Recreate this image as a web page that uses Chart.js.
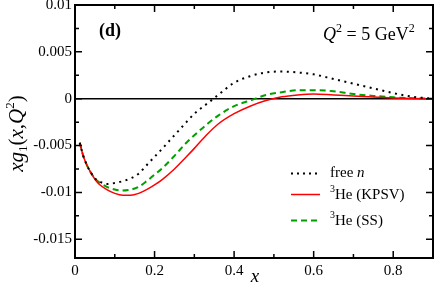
<!DOCTYPE html>
<html>
<head>
<meta charset="utf-8">
<script src="https://cdn.jsdelivr.net/npm/chart.js@4.4.1/dist/chart.umd.min.js"></script>
<style>
  html, body { margin: 0; padding: 0; background: #fff; }
  #wrap { width: 436px; height: 285px; }
</style>
</head>
<body>
<div id="wrap"><canvas id="chart" width="436" height="285"></canvas></div>
<script>
// === Data ===
const xValues = [0.012, 0.02, 0.03, 0.04, 0.05, 0.06, 0.08, 0.10, 0.12, 0.14, 0.16, 0.18, 0.20, 0.22, 0.25,
                 0.28, 0.30, 0.33, 0.36, 0.40, 0.44, 0.48, 0.52, 0.56, 0.60, 0.65, 0.70, 0.75, 0.80, 0.85, 0.90];
const freeN = [-0.0047, -0.0060, -0.0071, -0.0079, -0.0085, -0.0088, -0.0091, -0.0090, -0.0088, -0.0085, -0.0080,
               -0.0071, -0.0062, -0.0053, -0.0039, -0.0025, -0.0016, -0.0006, 0.0004, 0.0017, 0.0024, 0.0028,
               0.0029, 0.0028, 0.0026, 0.0021, 0.0016, 0.0011, 0.0006, 0.0002, 0.0000];
const heKPSV = [-0.0047, -0.0060, -0.0071, -0.0079, -0.0086, -0.0091, -0.0097, -0.0101, -0.0103, -0.0103, -0.0101,
                -0.0097, -0.0092, -0.0086, -0.0075, -0.0062, -0.0053, -0.0039, -0.0027, -0.0016, -0.0008, -0.0002,
                0.0002, 0.0004, 0.0005, 0.0004, 0.0003, 0.00017, 0.00008, 0.00002, 0.0000];
const heSS = [-0.0047, -0.0060, -0.0071, -0.0079, -0.0085, -0.0089, -0.0094, -0.0097, -0.0098, -0.0097, -0.0094,
              -0.0088, -0.0081, -0.0074, -0.0061, -0.0047, -0.0039, -0.0028, -0.0018, -0.0008, -0.0002, 0.0004,
              0.0007, 0.0009, 0.0009, 0.0008, 0.0005, 0.0003, 0.00015, 0.00005, 0.0000];

const xTicks = [0, 0.2, 0.4, 0.6, 0.8];
const xMinorTicks = [0.1, 0.3, 0.5, 0.7];
const yTicks = [-0.015, -0.01, -0.005, 0, 0.005, 0.01];
const yMinorTicks = [-0.0125, -0.0075, -0.0025, 0.0025, 0.0075];

const FONT = '"Liberation Serif", "DejaVu Serif", serif';

function toPoints(ys) {
    return xValues.map((x, i) => ({ x: x, y: ys[i] }));
}

// draws a run of text pieces: [text, font, baseline shift]
function drawRich(ctx, parts, x, y, align) {
    let total = 0;
    for (const p of parts) { ctx.font = p[1]; total += ctx.measureText(p[0]).width; }
    let cx = align === "center" ? x - total / 2 : x;
    ctx.textAlign = "left";
    ctx.textBaseline = "alphabetic";
    for (const p of parts) {
        ctx.font = p[1];
        ctx.fillText(p[0], cx, y + (p[2] || 0));
        cx += ctx.measureText(p[0]).width;
    }
}

const framePlugin = {
    id: "frame",
    beforeDatasetsDraw(chart) {
        const { ctx, chartArea: a, scales: { y } } = chart;
        const y0 = y.getPixelForValue(0);
        ctx.save();
        ctx.strokeStyle = "#000";
        ctx.lineWidth = 1.5;
        ctx.beginPath();
        ctx.moveTo(a.left, y0);
        ctx.lineTo(a.right, y0);
        ctx.stroke();
        ctx.restore();
    },
    afterDraw(chart) {
        const { ctx, chartArea: a, scales: { x, y } } = chart;
        ctx.save();
        ctx.strokeStyle = "#000";
        ctx.lineWidth = 2;
        ctx.strokeRect(a.left, a.top, a.right - a.left, a.bottom - a.top);

        // inward ticks on all four sides
        ctx.lineWidth = 1.5;
        ctx.beginPath();
        const xt = (v, len) => {
            const px = x.getPixelForValue(v);
            ctx.moveTo(px, a.bottom); ctx.lineTo(px, a.bottom - len);
            ctx.moveTo(px, a.top); ctx.lineTo(px, a.top + len);
        };
        const yt = (v, len) => {
            const py = y.getPixelForValue(v);
            ctx.moveTo(a.left, py); ctx.lineTo(a.left + len, py);
            ctx.moveTo(a.right, py); ctx.lineTo(a.right - len, py);
        };
        xTicks.forEach(v => xt(v, 7));
        xMinorTicks.forEach(v => xt(v, 4));
        yTicks.forEach(v => yt(v, 7));
        yMinorTicks.forEach(v => yt(v, 4));
        ctx.stroke();

        ctx.fillStyle = "#000";
        // panel label and Q^2
        drawRich(ctx, [["(d)", "bold 18px " + FONT]], 110, 36, "center");
        drawRich(ctx, [
            ["Q", "italic 18px " + FONT],
            ["2", "12px " + FONT, -8],
            [" = 5 GeV", "18px " + FONT],
            ["2", "12px " + FONT, -8]
        ], 323, 40);

        // legend
        const legend = [
            { y: 173.5, color: "#000", width: 2, dash: [2, 4], text: [["free ", "15px " + FONT], ["n", "italic 15px " + FONT]], base: 177 },
            { y: 194.5, color: "#ff0000", width: 1.5, dash: [], text: [["3", "10px " + FONT, -7], ["He (KPSV)", "15px " + FONT]], base: 198.5 },
            { y: 220.5, color: "#00a000", width: 2, dash: [6, 4], text: [["3", "10px " + FONT, -7], ["He (SS)", "15px " + FONT]], base: 224.5 }
        ];
        for (const l of legend) {
            ctx.save();
            ctx.strokeStyle = l.color;
            ctx.lineWidth = l.width;
            ctx.setLineDash(l.dash);
            ctx.beginPath();
            ctx.moveTo(291, l.y);
            ctx.lineTo(320, l.y);
            ctx.stroke();
            ctx.restore();
            drawRich(ctx, l.text, 330, l.base);
        }

        // axis titles
        drawRich(ctx, [["x", "italic 19px " + FONT]], (a.left + a.right) / 2 + 1, 282, "center");
        ctx.translate(23, (a.top + a.bottom) / 2 + 2);
        ctx.rotate(-Math.PI / 2);
        drawRich(ctx, [
            ["xg", "italic 21px " + FONT],
            ["1", "13px " + FONT, 4],
            ["(", "21px " + FONT],
            ["x", "italic 21px " + FONT],
            [",", "21px " + FONT],
            ["Q", "italic 21px " + FONT],
            ["2", "13px " + FONT, -9],
            [")", "21px " + FONT]
        ], 0, 0, "center");
        ctx.restore();
    }
};

const fmt = v => String(Number(v.toFixed(4)));

new Chart(document.getElementById("chart"), {
    type: "line",
    data: {
        datasets: [
            { label: "free n", data: toPoints(freeN), borderColor: "#000", borderWidth: 2, borderDash: [2, 4.5] },
            { label: "3He (KPSV)", data: toPoints(heKPSV), borderColor: "#ff0000", borderWidth: 1.5 },
            { label: "3He (SS)", data: toPoints(heSS), borderColor: "#00a000", borderWidth: 2, borderDash: [6, 4] }
        ]
    },
    options: {
        responsive: false,
        devicePixelRatio: 1,
        animation: false,
        layout: { padding: { top: 5, right: 3, left: 0, bottom: 0 } },
        elements: {
            point: { radius: 0 },
            line: { cubicInterpolationMode: "monotone", fill: false }
        },
        plugins: { legend: { display: false }, tooltip: { enabled: false } },
        scales: {
            x: {
                type: "linear",
                min: 0,
                max: 0.9,
                grid: { display: false, drawTicks: false },
                border: { display: false },
                afterBuildTicks: s => { s.ticks = xTicks.map(v => ({ value: v })); },
                ticks: { callback: fmt, padding: 4, maxRotation: 0, color: "#000", font: { family: FONT, size: 15 } },
                afterFit: s => { s.height = 27; s.paddingLeft = 0; s.paddingRight = 0; }
            },
            y: {
                min: -0.017,
                max: 0.01,
                grid: { display: false, drawTicks: false },
                border: { display: false },
                afterBuildTicks: s => { s.ticks = yTicks.map(v => ({ value: v })); },
                ticks: { callback: fmt, padding: 3, color: "#000", font: { family: FONT, size: 15 } },
                afterFit: s => { s.width = 75; s.paddingTop = 0; s.paddingBottom = 0; }
            }
        }
    },
    plugins: [framePlugin]
});
</script>
</body>
</html>
